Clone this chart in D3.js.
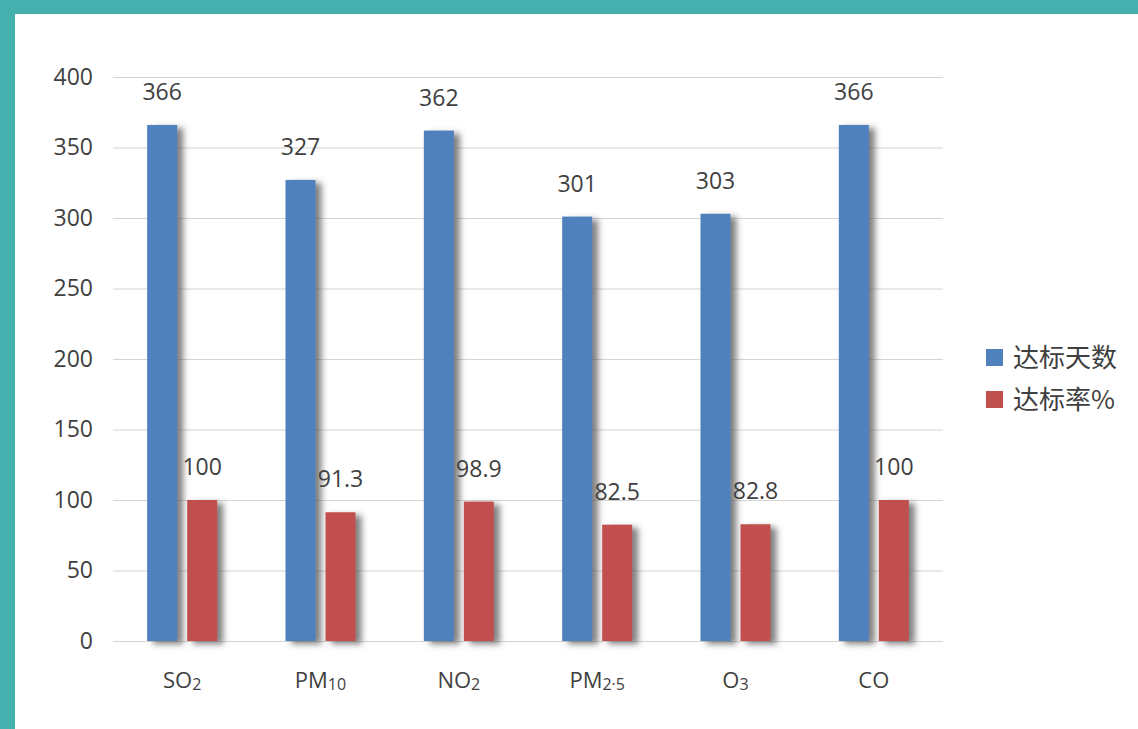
<!DOCTYPE html>
<html>
<head>
<meta charset="utf-8">
<script src="https://cdn.jsdelivr.net/npm/d3@7"></script>
<style>
  html, body { margin: 0; padding: 0; background: #fff; }
  svg { display: block; }
</style>
</head>
<body>
<svg id="chart" width="1138" height="729"></svg>
<script>
// Pollutant categories (label main part + subscript part)
const categories = ["SO2", "PM10", "NO2", "PM2.5", "O3", "CO"];
const categoryMain = ["SO", "PM", "NO", "PM", "O", "CO"];
const categorySub = ["2", "10", "2", "2·5", "3", ""];
// Series
const seriesNames = ["达标天数", "达标率%"];
const daysCompliant = [366, 327, 362, 301, 303, 366];
const rateCompliant = [100, 91.3, 98.9, 82.5, 82.8, 100];
const yTicks = [0, 50, 100, 150, 200, 250, 300, 350, 400];

const colors = ["#4f81bd", "#c0504d"];
const W = 1138, H = 729;
const svg = d3.select("#chart");

// Frame: teal band along top and left
svg.append("rect").attr("x", 0).attr("y", 0).attr("width", W).attr("height", H).attr("fill", "#ffffff");
svg.append("rect").attr("x", 0).attr("y", 0).attr("width", W).attr("height", 14).attr("fill", "#44b1ae");
svg.append("rect").attr("x", 0).attr("y", 0).attr("width", 15).attr("height", H).attr("fill", "#44b1ae");

// Soft shadow for the bars
const defs = svg.append("defs");
const f = defs.append("filter").attr("id", "shadow")
  .attr("x", "-30%").attr("y", "-10%").attr("width", "180%").attr("height", "130%");
f.append("feGaussianBlur").attr("in", "SourceAlpha").attr("stdDeviation", 3).attr("result", "b");
f.append("feOffset").attr("in", "b").attr("dx", 6).attr("dy", 3).attr("result", "o");
f.append("feFlood").attr("flood-color", "#555").attr("flood-opacity", 0.75).attr("result", "c");
f.append("feComposite").attr("in", "c").attr("in2", "o").attr("operator", "in").attr("result", "s");
const m = f.append("feMerge");
m.append("feMergeNode").attr("in", "s");
m.append("feMergeNode").attr("in", "SourceGraphic");

const plot = { left: 113, right: 943, top: 77, bottom: 641 };
const font = "'Open Sans', 'Noto Sans', sans-serif";
const textColor = "#3f3f3f";

const x = d3.scaleBand().domain(categories).range([plot.left, plot.right]).paddingInner(0).paddingOuter(0);
const y = d3.scaleLinear().domain([0, 400]).range([plot.bottom, plot.top]);
const barW = 30, gap = 10;

// Gridlines and y axis labels
const yAxis = d3.axisLeft(y).tickValues(yTicks).tickSize(-(plot.right - plot.left)).tickPadding(20);
const gy = svg.append("g").attr("transform", `translate(${plot.left},0)`).call(yAxis);
gy.select(".domain").remove();
gy.selectAll(".tick line").attr("stroke", "#d4d4d4").attr("stroke-width", 1.2);
gy.selectAll(".tick text").attr("fill", textColor).attr("font-size", 23).attr("font-family", font);

// Bars
const series = [daysCompliant, rateCompliant];
series.forEach((vals, si) => {
  const xOff = si === 0 ? -gap / 2 - barW : gap / 2;
  svg.append("g").selectAll("rect").data(vals).join("rect")
    .attr("x", (d, i) => x(categories[i]) + x.bandwidth() / 2 + xOff)
    .attr("y", d => y(d))
    .attr("width", barW)
    .attr("height", d => y(0) - y(d))
    .attr("fill", colors[si])
    .attr("filter", "url(#shadow)");
});

// Value labels
series.forEach((vals, si) => {
  const xOff = si === 0 ? -gap / 2 - barW / 2 : gap / 2 + barW / 2;
  svg.append("g").selectAll("text").data(vals).join("text")
    .attr("x", (d, i) => x(categories[i]) + x.bandwidth() / 2 + xOff)
    .attr("y", d => y(d) - 25)
    .attr("text-anchor", "middle")
    .attr("font-family", font).attr("font-size", 23).attr("fill", textColor)
    .text(d => d);
});

// Category labels with subscripts
const gx = svg.append("g");
categories.forEach((c, i) => {
  const t = gx.append("text")
    .attr("x", x(c) + x.bandwidth() / 2)
    .attr("y", 688)
    .attr("text-anchor", "middle")
    .attr("font-family", font).attr("font-size", 22).attr("fill", textColor);
  t.append("tspan").text(categoryMain[i]);
  if (categorySub[i]) t.append("tspan").attr("font-size", 16).attr("dy", 2).text(categorySub[i]);
});

// Legend
const lg = svg.append("g").attr("transform", "translate(986,349)");
seriesNames.forEach((n, i) => {
  const row = lg.append("g").attr("transform", `translate(0,${i * 42})`);
  row.append("rect").attr("width", 17).attr("height", 17).attr("fill", colors[i]);
  row.append("text").attr("x", 27).attr("y", 18)
    .attr("font-family", "'Noto Sans CJK SC', sans-serif").attr("font-size", 26).attr("fill", textColor)
    .text(n);
});
</script>
</body>
</html>
